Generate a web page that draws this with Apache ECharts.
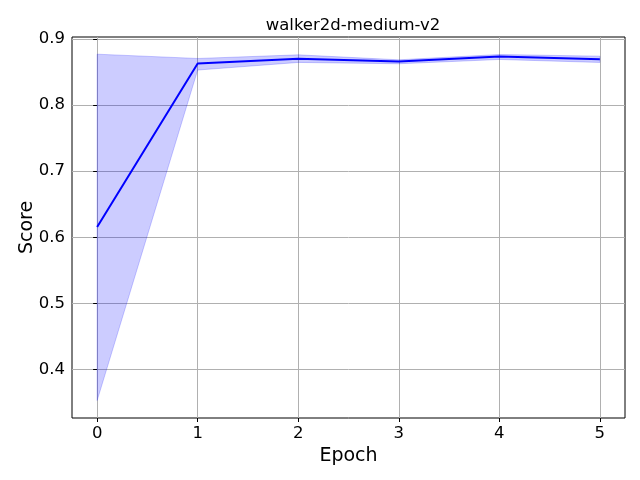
<!DOCTYPE html>
<html><head><meta charset="utf-8">
<script src="https://cdn.jsdelivr.net/npm/echarts@6/dist/echarts.min.js"></script>
<style>html,body{margin:0;padding:0;background:#fff}#c{width:640px;height:480px}</style>
</head><body><div id="c"></div>
<script>
const epochs = [0, 1, 2, 3, 4, 5];
const meanScore = [0.6155, 0.8630, 0.8700, 0.8660, 0.8735, 0.8695];
const upperScore = [0.8770, 0.8705, 0.8760, 0.8685, 0.8765, 0.8740];
const lowerScore = [0.3530, 0.8530, 0.8645, 0.8625, 0.8690, 0.8645];
const xTicks = [0, 1, 2, 3, 4, 5];
const yTicks = [0.4, 0.5, 0.6, 0.7, 0.8, 0.9];
const titleText = 'walker2d-medium-v2';

const FONT = 'DejaVu Sans';
const chart = echarts.init(document.getElementById('c'), null, {renderer: 'canvas'});
const bandData = epochs.map((e, i) => [e, lowerScore[i], upperScore[i]]);
chart.setOption({
  animation: false,
  title: {text: titleText, left: 348, textAlign: 'center', top: 12,
    textStyle: {fontFamily: FONT, fontSize: 16.5, fontWeight: 'normal', color: '#000'}},
  grid: {left: 72, right: 15, top: 37, bottom: 62, show: true, borderColor: '#000', borderWidth: 1, containLabel: false},
  xAxis: {type: 'value', min: -0.25, max: 5.25,
    name: 'Epoch', nameLocation: 'middle', nameGap: 28,
    nameTextStyle: {fontFamily: FONT, fontSize: 19, color: '#000'},
    axisLine: {show: false},
    axisTick: {show: true, customValues: xTicks, length: 4, lineStyle: {color: '#000'}},
    axisLabel: {customValues: xTicks, fontFamily: FONT, fontSize: 16.5, color: '#000', margin: 7},
    splitLine: {show: true, lineStyle: {color: '#b0b0b0', width: 1}}},
  yAxis: {type: 'value', min: 0.3266, max: 0.903,
    name: 'Score', nameLocation: 'middle', nameGap: 35, nameMoveOverlap: false,
    nameTextStyle: {fontFamily: FONT, fontSize: 19, color: '#000'},
    axisLine: {show: false},
    axisTick: {show: true, customValues: yTicks, length: 4, lineStyle: {color: '#000'}},
    axisLabel: {customValues: yTicks, fontFamily: FONT, fontSize: 16.5, color: '#000', margin: 7,
      formatter: v => v.toFixed(1)},
    splitLine: {show: true, lineStyle: {color: '#b0b0b0', width: 1}}},
  series: [
    {type: 'custom', data: bandData, z: 2, silent: true,
      encode: {x: 0, y: [1, 2]},
      renderItem: function (params, api) {
        if (params.dataIndex !== 0) return null;
        const up = bandData.map(d => api.coord([d[0], d[2]]));
        const lo = bandData.map(d => api.coord([d[0], d[1]])).reverse();
        return {type: 'polygon', shape: {points: up.concat(lo)},
          style: {fill: 'rgba(0,0,255,0.2)', stroke: 'rgba(0,0,255,0.2)', lineWidth: 1}};
      }},
    {type: 'line', data: epochs.map((e, i) => [e, meanScore[i]]), symbol: 'none',
      lineStyle: {color: '#0000ff', width: 2}, z: 3}
  ]
});
</script></body></html>
